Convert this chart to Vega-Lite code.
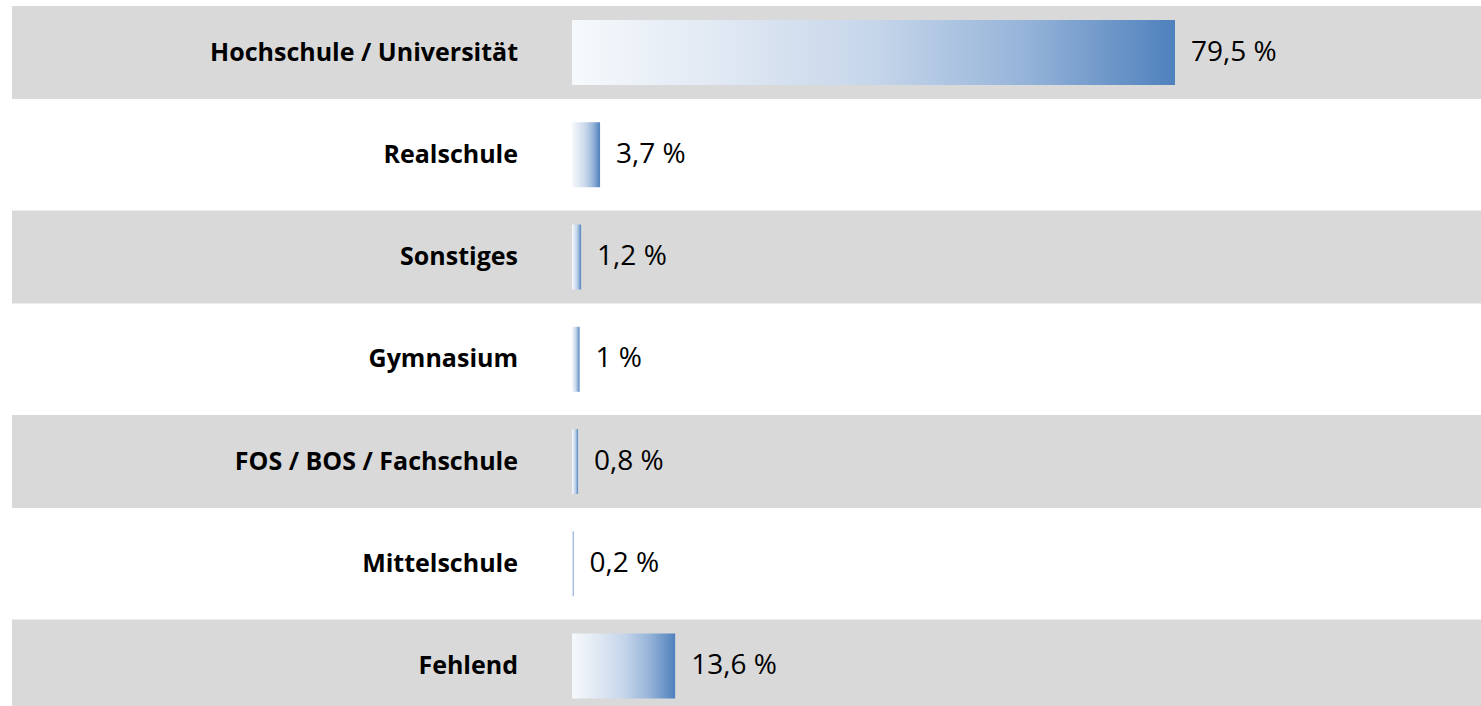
{
  "$schema": "https://vega.github.io/schema/vega-lite/v6.json",
  "width": 1469,
  "height": 706,
  "autosize": {"type": "none"},
  "padding": {"left": 12, "top": 0, "right": 0, "bottom": 0},
  "background": "white",
  "config": {"view": {"stroke": null}},
  "data": {
    "values": [
      {"category": "Hochschule / Universität", "value": 79.5, "label": "79,5 %", "order": 1, "shaded": true},
      {"category": "Realschule", "value": 3.7, "label": "3,7 %", "order": 2, "shaded": false},
      {"category": "Sonstiges", "value": 1.2, "label": "1,2 %", "order": 3, "shaded": true},
      {"category": "Gymnasium", "value": 1.0, "label": "1 %", "order": 4, "shaded": false},
      {"category": "FOS / BOS / Fachschule", "value": 0.8, "label": "0,8 %", "order": 5, "shaded": true},
      {"category": "Mittelschule", "value": 0.2, "label": "0,2 %", "order": 6, "shaded": false},
      {"category": "Fehlend", "value": 13.6, "label": "13,6 %", "order": 7, "shaded": true}
    ]
  },
  "encoding": {
    "y": {
      "field": "category",
      "type": "nominal",
      "sort": {"field": "order", "order": "ascending"},
      "scale": {"range": [1.4, 717.2], "paddingInner": 0, "paddingOuter": 0},
      "axis": null
    }
  },
  "layer": [
    {
      "transform": [{"filter": "datum.shaded"}],
      "mark": {"type": "bar", "height": 93, "color": "#d9d9d9"},
      "encoding": {
        "x": {"datum": -73.83, "type": "quantitative", "scale": {"domain": [-73.83, 119.84], "nice": false, "zero": false}, "axis": null},
        "x2": {"datum": 119.84}
      }
    },
    {
      "mark": {
        "type": "bar",
        "height": 65,
        "color": {
          "gradient": "linear",
          "x1": 0, "y1": 0, "x2": 1, "y2": 0,
          "stops": [
            {"offset": 0, "color": "#f6f9fc"},
            {"offset": 0.25, "color": "#e0e8f3"},
            {"offset": 0.5, "color": "#c6d6ea"},
            {"offset": 0.75, "color": "#96b4d9"},
            {"offset": 1, "color": "#4f81bd"}
          ]
        }
      },
      "encoding": {
        "x": {"field": "value", "type": "quantitative"},
        "x2": {"datum": 0}
      }
    },
    {
      "mark": {"type": "text", "align": "right", "baseline": "middle", "font": "Open Sans", "fontWeight": "bold", "fontSize": 25, "color": "#000000"},
      "encoding": {
        "x": {"datum": -7.12, "type": "quantitative"},
        "text": {"field": "category"}
      }
    },
    {
      "mark": {"type": "text", "align": "left", "baseline": "middle", "dx": 16, "font": "Open Sans", "fontSize": 28, "color": "#000000"},
      "encoding": {
        "x": {"field": "value", "type": "quantitative"},
        "text": {"field": "label"}
      }
    }
  ]
}
